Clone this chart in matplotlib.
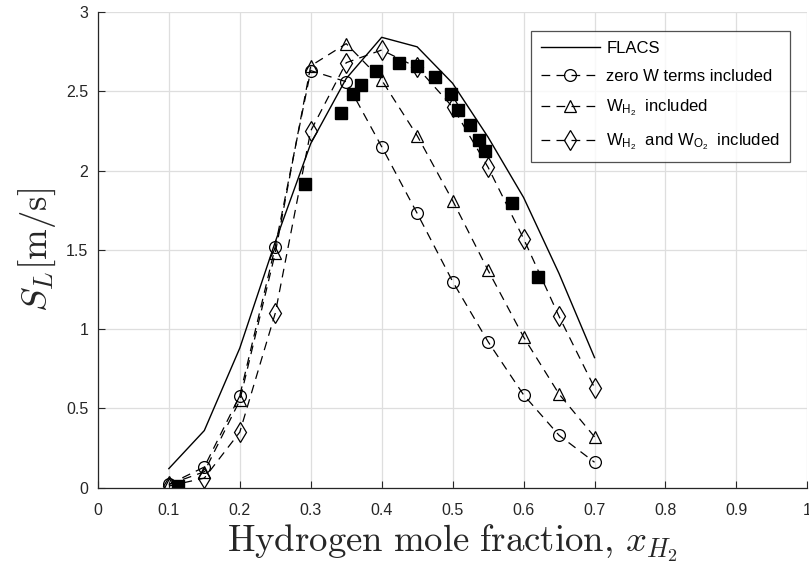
import matplotlib
matplotlib.use("Agg")
import matplotlib.pyplot as plt

plt.rcParams['font.family'] = ['Liberation Sans', 'DejaVu Sans']

# FLACS (solid line)
x_flacs = [0.1, 0.15, 0.2, 0.25, 0.3, 0.35, 0.4, 0.45, 0.5, 0.55, 0.6, 0.65, 0.7]
y_flacs = [0.12, 0.36, 0.88, 1.55, 2.17, 2.58, 2.84, 2.78, 2.55, 2.21, 1.83, 1.35, 0.82]

# model variants
x_model = [0.1, 0.15, 0.2, 0.25, 0.3, 0.35, 0.4, 0.45, 0.5, 0.55, 0.6, 0.65, 0.7]
y_zero = [0.02, 0.13, 0.58, 1.52, 2.63, 2.56, 2.15, 1.73, 1.30, 0.92, 0.585, 0.33, 0.16]
y_wh2 = [0.02, 0.10, 0.55, 1.48, 2.66, 2.80, 2.57, 2.22, 1.81, 1.37, 0.95, 0.59, 0.32]
y_wh2o2 = [0.01, 0.06, 0.35, 1.10, 2.25, 2.68, 2.76, 2.65, 2.40, 2.02, 1.57, 1.08, 0.63]

# experiments (filled squares)
x_exp = [0.113, 0.292, 0.342, 0.359, 0.371, 0.392, 0.424, 0.45, 0.475, 0.497,
         0.508, 0.524, 0.537, 0.545, 0.583, 0.62]
y_exp = [0.01, 1.915, 2.36, 2.48, 2.54, 2.63, 2.68, 2.66, 2.59, 2.48,
         2.38, 2.29, 2.19, 2.125, 1.795, 1.33]

x_ticks = [0, 0.1, 0.2, 0.3, 0.4, 0.5, 0.6, 0.7, 0.8, 0.9, 1]
x_ticklabels = ["0", "0.1", "0.2", "0.3", "0.4", "0.5", "0.6", "0.7", "0.8", "0.9", "1"]
y_ticks = [0, 0.5, 1, 1.5, 2, 2.5, 3]
y_ticklabels = ["0", "0.5", "1", "1.5", "2", "2.5", "3"]

fig = plt.figure(figsize=(8.09, 5.69), dpi=100)
ax = fig.add_axes([0.121, 0.143, 0.877, 0.836])

ax.plot(x_flacs, y_flacs, '-', color='k', lw=1.0, label='FLACS')
ax.plot(x_model, y_zero, '--', color='k', lw=0.9, marker='o', ms=8.5, mfc='none',
        mew=0.9, dashes=(7, 5), label='zero W terms included')
ax.plot(x_model, y_wh2, '--', color='k', lw=0.9, marker='^', ms=9, mfc='none',
        mew=0.9, dashes=(7, 5), label=r'$\mathregular{W_{H_2}}$  included')
ax.plot(x_model, y_wh2o2, '--', color='k', lw=0.9, marker='d', ms=10.5, mfc='none',
        mew=0.9, dashes=(7, 5), label=r'$\mathregular{W_{H_2}}$  and $\mathregular{W_{O_2}}$  included')
ax.plot(x_exp, y_exp, 's', color='k', ms=8, mfc='k', label='_nolegend_')

ax.set_xlim(0, 1)
ax.set_ylim(0, 3)
ax.set_xticks(x_ticks)
ax.set_xticklabels(x_ticklabels)
ax.set_yticks(y_ticks)
ax.set_yticklabels(y_ticklabels)
ax.tick_params(direction='in', length=5, labelsize=11.5, colors='#262626', width=0.8)
ax.tick_params(axis='x', pad=11)
ax.tick_params(axis='y', pad=7)
ax.grid(True, color='#dedede', lw=0.9)
ax.set_axisbelow(True)
for s in ['top', 'right']:
    ax.spines[s].set_visible(False)
for s in ['left', 'bottom']:
    ax.spines[s].set_color('#262626')
    ax.spines[s].set_linewidth(0.9)

ax.set_xlabel(r'$\mathrm{Hydrogen\ mole\ fraction,}\,x_{H_2}$', fontsize=26.5,
              math_fontfamily='cm', color='#262626', labelpad=3)
ax.set_ylabel(r'$S_L[\mathrm{m/s}]$', fontsize=26.5, math_fontfamily='cm',
              color='#262626', labelpad=6)

leg = ax.legend(loc='upper right', bbox_to_anchor=(0.9755, 0.96), borderaxespad=0,
                fontsize=12, frameon=True, fancybox=False, edgecolor='#262626',
                handlelength=3.5, borderpad=0.6, labelspacing=0.8, handletextpad=0.4)
leg.get_frame().set_linewidth(0.9)

fig.savefig('out.png', dpi=100)
